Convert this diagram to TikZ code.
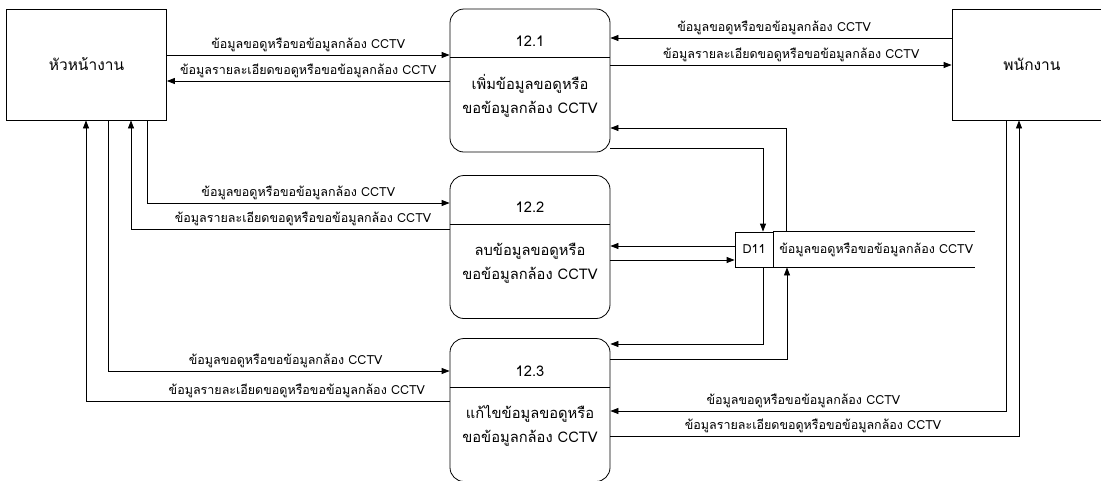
\documentclass[tikz,border=0pt]{standalone}
\usepackage{fontspec}
\newfontfamily\thaifont[Script=Thai]{Loma}
\usetikzlibrary{arrows.meta}

\tikzset{
  ent/.style={draw, minimum width=160pt, minimum height=111pt, inner sep=0pt, font=\thaifont\fontsize{15.5}{18}\selectfont},
  proc/.style={draw, rounded corners=14pt, minimum width=160pt, minimum height=143pt, inner sep=0pt},
  ptext/.style={align=center, font=\thaifont\fontsize{14.7}{24}\selectfont},
  lbl/.style={font=\thaifont\fontsize{12.5}{14}\selectfont, inner sep=1pt},
  storecell/.style={draw, minimum width=38pt, minimum height=35pt, inner sep=0pt, font=\thaifont\fontsize{12.5}{14}\selectfont}
}

\begin{document}
\begin{tikzpicture}[x=1pt, y=-1pt, >={Triangle[length=8pt,width=6pt]}, line width=0.8pt]
	\useasboundingbox (0,0) rectangle (1101,480);
	% external entities
	\node [ent] (chief) at (86.5,64.5) {หัวหน้างาน};
	\node [ent] (staff) at (1032,64.5) {พนักงาน};
	% processes
	\node [proc] (p1) at (530,80.5) {};
	\draw (p1.west |- 0,57) -- (p1.east |- 0,57);
	\node [ptext] at (530,41) {12.1};
	\node [ptext] at (530,96) {เพิ่มข้อมูลขอดูหรือ\\ขอข้อมูลกล้อง CCTV};
	\node [proc] (p2) at (530,247) {};
	\draw (p2.west |- 0,224) -- (p2.east |- 0,224);
	\node [ptext] at (530,207) {12.2};
	\node [ptext] at (530,263) {ลบข้อมูลขอดูหรือ\\ขอข้อมูลกล้อง CCTV};
	\node [proc] (p3) at (530,410) {};
	\draw (p3.west |- 0,387) -- (p3.east |- 0,387);
	\node [ptext] at (530,371) {12.3};
	\node [ptext] at (530,426) {แก้ไขข้อมูลขอดูหรือ\\ขอข้อมูลกล้อง CCTV};
	% data store
	\node [storecell] (d11) at (754,249.5) {D11};
	\draw (d11.north east) --++ (202,0) (d11.south east) --++ (202,0);
	\node [lbl, anchor=west] (d11txt) at (778,249.5) {ข้อมูลขอดูหรือขอข้อมูลกล้อง CCTV};
	% flows with หัวหน้างาน
	\draw [->] (chief.east |- 0,55) -- node [lbl, above=2pt] {ข้อมูลขอดูหรือขอข้อมูลกล้อง CCTV} (p1.west |- 0,55);
	\draw [->] (p1.west |- 0,81) -- node [lbl, above=2pt] {ข้อมูลรายละเอียดขอดูหรือขอข้อมูลกล้อง CCTV} (chief.east |- 0,81);
	\draw [->] (chief.south -| 147,0) |- node [lbl, above=2pt, pos=0.75] {ข้อมูลขอดูหรือขอข้อมูลกล้อง CCTV} (p2.west |- 0,203);
	\draw [->] (p2.west |- 0,229) -| node [lbl, above=2pt, pos=0.23] {ข้อมูลรายละเอียดขอดูหรือขอข้อมูลกล้อง CCTV} (chief.south -| 131,0);
	\draw [->] (chief.south -| 108,0) |- node [lbl, above=2pt, pos=0.76] {ข้อมูลขอดูหรือขอข้อมูลกล้อง CCTV} (p3.west |- 0,371);
	\draw [->] (p3.west |- 0,401) -| node [lbl, above=2pt, pos=0.21] {ข้อมูลรายละเอียดขอดูหรือขอข้อมูลกล้อง CCTV} (chief.south -| 86,0);
	% flows with พนักงาน
	\draw [->] (staff.west |- 0,38) -- node [lbl, above=2pt, pos=0.52] {ข้อมูลขอดูหรือขอข้อมูลกล้อง CCTV} (p1.east |- 0,38);
	\draw [->] (p1.east |- 0,65) -- node [lbl, above=2pt, pos=0.53] {ข้อมูลรายละเอียดขอดูหรือขอข้อมูลกล้อง CCTV} (staff.west |- 0,65);
	\draw [->] (staff.south -| 1006,0) |- node [lbl, above=2pt, pos=0.756] {ข้อมูลขอดูหรือขอข้อมูลกล้อง CCTV} (p3.east |- 0,411);
	\draw [->] (p3.east |- 0,436) -| node [lbl, above=2pt, pos=0.248] {ข้อมูลรายละเอียดขอดูหรือขอข้อมูลกล้อง CCTV} (staff.south -| 1019,0);
	% flows with D11
	\draw [->] (p1.east |- 0,148) -| (d11.north -| 763,0);
	\draw [->] (d11.north -| 786,0) |- (p1.east |- 0,128);
	\draw [->] (d11.west |- 0,246) -- (p2.east |- 0,246);
	\draw [->] (p2.east |- 0,260) -- (d11.west |- 0,260);
	\draw [->] (d11.south -| 763,0) |- (p3.east |- 0,344);
	\draw [->] (p3.east |- 0,359) -| (d11.south -| 787,0);
\end{tikzpicture}
\end{document}
